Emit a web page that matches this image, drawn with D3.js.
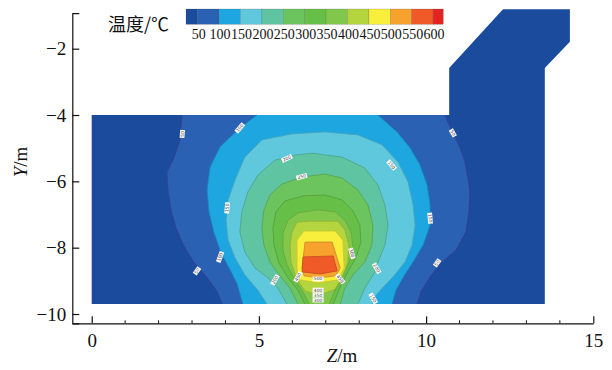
<!DOCTYPE html>
<html><head><meta charset="utf-8">
<script src="https://cdn.jsdelivr.net/npm/d3@7"></script>
<style>
html,body{margin:0;padding:0;background:#fff;}
svg{display:block;}
</style></head><body>
<svg id="chart" width="612" height="370"></svg>
<script>
// Temperature levels (°C) bounding each colour band
const levels = [50, 100, 150, 200, 250, 300, 350, 400, 450, 500, 550, 600];
// Band colours: <50, 50-100, ..., 550-600, >600
const bandColors = ["#1b4b9c", "#2a61b3", "#1da6e0", "#5fc8dd", "#5ec4a2", "#6cc45e",
                    "#66bf46", "#80c74b", "#b5d53e", "#f8ef3c", "#f8a22e", "#ef5a28", "#e42222"];
const xTicks = [0, 5, 10, 15];
const yTicks = [-10, -8, -6, -4, -2];

// Computational domain outline (Z, Y) in metres
const domainOutline = [[0, -4], [10.69, -4], [10.69, -2.58], [12.30, -0.81], [14.30, -0.81],
  [14.30, -1.79], [13.55, -2.58], [13.55, -9.7], [0, -9.7]];

// Isotherms (Z, Y); each encloses the region hotter than its level
const iso50 = [[3.90,-9.70],[3.75,-9.32],[3.45,-8.90],[3.06,-8.45],[2.76,-7.95],[2.52,-7.41],[2.37,-6.86],
  [2.28,-6.26],[2.25,-5.72],[2.46,-5.30],[2.64,-4.75],[2.70,-4.00],[10.57,-4.00],[10.65,-4.21],[10.80,-4.54],
  [11.02,-5.00],[11.16,-5.42],[11.25,-5.90],[11.31,-6.32],[11.28,-6.92],[11.19,-7.53],[10.89,-8.07],
  [10.45,-8.46],[10.12,-8.88],[9.85,-9.31],[9.73,-9.70]];
const iso100 = [[4.52,-9.70],[4.35,-9.09],[4.14,-8.67],[3.87,-8.16],[3.66,-7.56],[3.51,-6.94],[3.45,-6.26],
  [3.54,-5.57],[3.84,-4.96],[4.43,-4.39],[4.94,-4.00],[8.56,-4.00],[9.13,-4.51],[9.52,-4.99],[9.82,-5.51],
  [10.03,-6.11],[10.12,-6.71],[10.12,-7.32],[9.91,-7.92],[9.61,-8.43],[9.34,-8.85],[9.10,-9.28],[8.98,-9.70]];
const iso150 = [[5.24,-9.70],[4.97,-9.28],[4.58,-8.82],[4.29,-8.31],[4.08,-7.77],[4.02,-7.17],[4.08,-6.56],
  [4.29,-5.96],[4.58,-5.27],[5.09,-4.75],[5.99,-4.57],[6.98,-4.51],[7.96,-4.60],[8.68,-4.90],[9.16,-5.42],
  [9.46,-6.02],[9.61,-6.71],[9.67,-7.32],[9.58,-7.92],[9.37,-8.43],[9.01,-8.88],[8.77,-9.13],[8.50,-9.43],
  [8.38,-9.70]];
const iso200 = [[5.84,-9.70],[5.57,-9.22],[5.27,-8.91],[4.88,-8.61],[4.58,-8.13],[4.43,-7.53],[4.49,-6.92],
  [4.67,-6.32],[4.97,-5.81],[5.48,-5.36],[6.08,-5.21],[6.59,-5.15],[7.49,-5.27],[8.17,-5.60],[8.56,-6.11],
  [8.77,-6.71],[8.86,-7.32],[8.77,-7.92],[8.56,-8.43],[8.47,-8.73],[8.17,-9.22],[7.96,-9.70]];
const iso250 = [[6.17,-9.70],[5.93,-9.22],[5.63,-8.85],[5.33,-8.43],[5.15,-7.92],[5.09,-7.41],[5.15,-6.86],
  [5.33,-6.41],[5.69,-6.08],[6.29,-5.87],[6.98,-5.78],[7.49,-5.90],[7.96,-6.26],[8.26,-6.71],[8.41,-7.32],
  [8.38,-7.92],[8.17,-8.43],[7.81,-8.82],[7.57,-9.22],[7.43,-9.70]];
const iso300 = [[6.38,-9.70],[6.17,-9.28],[5.87,-8.91],[5.60,-8.46],[5.45,-7.92],[5.42,-7.41],[5.51,-6.92],
  [5.78,-6.59],[6.32,-6.44],[6.98,-6.41],[7.49,-6.56],[7.81,-6.89],[8.02,-7.32],[8.05,-7.83],[7.90,-8.31],
  [7.66,-8.73],[7.43,-9.19],[7.22,-9.70]];
const iso350 = [[6.50,-9.70],[6.32,-9.34],[6.08,-8.97],[5.84,-8.52],[5.72,-8.07],[5.72,-7.56],[5.87,-7.17],
  [6.17,-6.95],[6.77,-6.86],[7.28,-6.92],[7.57,-7.17],[7.76,-7.53],[7.81,-8.01],[7.69,-8.46],[7.49,-8.88],
  [7.28,-9.28],[7.10,-9.70]];
const iso400 = [[5.96,-8.43],[5.93,-7.92],[5.99,-7.53],[6.14,-7.23],[6.53,-7.20],[7.37,-7.20],[7.57,-7.47],
  [7.69,-7.92],[7.66,-8.43],[7.51,-8.88],[7.28,-9.25],[6.83,-9.43],[6.38,-9.31],[6.11,-8.91]];
const iso450 = [[6.14,-8.67],[6.14,-7.77],[6.35,-7.50],[7.28,-7.50],[7.51,-7.77],[7.55,-8.61],[7.37,-8.97],
  [6.77,-9.06],[6.23,-8.97]];
const iso500 = [[6.29,-8.61],[6.38,-7.83],[7.19,-7.83],[7.43,-8.61],[7.31,-8.85],[6.77,-8.91],[6.35,-8.85]];
const iso550 = [[6.32,-8.28],[7.22,-8.25],[7.34,-8.70],[6.83,-8.79],[6.29,-8.73]];

// In-line contour labels: Z, Y, level, angle along the line
const labelZ     = [2.71, 4.43, 5.84, 6.28, 4.05, 3.84, 3.15, 5.48, 10.80, 8.97, 10.12, 10.33, 7.78, 8.52, 8.42, 6.77, 6.17, 7.43, 6.77, 6.77, 6.77];
const labelY     = [-4.57,-4.39,-5.31,-5.86,-6.80,-8.28,-8.70,-8.97,-4.54,-5.51,-7.11,-8.46,-8.17,-8.62,-9.53,-8.94,-8.88,-8.94,-9.28,-9.43,-9.58];
const labelValue = [50, 100, 200, 250, 150, 100, 50, 200, 50, 150, 100, 50, 300, 200, 150, 500, 450, 450, 400, 350, 300];
const labelAngle = [-85, -50, -25, -15, -85, -70, -55, -60, 60, 50, 85, -55, 75, 60, 60, 0, -60, 50, 0, 0, 0];

const isolines = [iso50, iso100, iso150, iso200, iso250, iso300, iso350, iso400, iso450, iso500, iso550];

const svg = d3.select("#chart");
const x = d3.scaleLinear().domain([-0.58, 15]).range([72.3, 593.3]);
const y = d3.scaleLinear().domain([-10.28, -0.93]).range([323.3, 13.2]);
const line = d3.line().x(d => x(d[0])).y(d => y(d[1]));

const field = svg.append("g");
field.append("path").attr("d", line(domainOutline) + "Z").attr("fill", bandColors[0]);

// filled bands, coolest first
isolines.forEach((pts, i) => {
  field.append("path").attr("d", line(pts) + "Z").attr("fill", bandColors[i + 1]);
});

// isotherm strokes, leaving out the stretches that run along the domain edge
const onEdge = p => Math.abs(p[1] + 4) < 1e-6 || Math.abs(p[1] + 9.7) < 1e-6;
isolines.forEach((pts, i) => {
  const closed = pts.concat([pts[0]]);
  let d = "";
  for (let k = 0; k < closed.length - 1; k++) {
    const a = closed[k], b = closed[k + 1];
    if (onEdge(a) && onEdge(b)) continue;
    d += `M${x(a[0])},${y(a[1])}L${x(b[0])},${y(b[1])}`;
  }
  const stroke = i === 0 ? "#3b3b8e" : d3.color(bandColors[i + 1]).darker(0.55).formatHex();
  field.append("path").attr("d", d).attr("fill", "none")
    .attr("stroke", stroke).attr("stroke-width", 0.8);
});

// contour labels
labelZ.forEach((z, i) => {
  const t = String(labelValue[i]);
  const w = t.length * 3 + 2;
  const lg = field.append("g")
    .attr("transform", `translate(${x(z)},${y(labelY[i])}) rotate(${labelAngle[i]})`);
  lg.append("rect").attr("x", -w / 2).attr("y", -2.4).attr("width", w).attr("height", 4.8).attr("fill", "#fff");
  lg.append("text").attr("text-anchor", "middle").attr("dy", "0.35em")
    .attr("font-family", "DejaVu Sans").attr("font-size", 4.5).attr("fill", "#444").text(t);
});

// axes
const serif = "'Liberation Serif','Times New Roman',serif";
const xAxis = svg.append("g").attr("transform", `translate(0,${y(-10.28)})`)
  .call(d3.axisBottom(x).tickValues(xTicks).tickSize(-7).tickSizeOuter(0).tickPadding(10.5).tickFormat(d3.format("d")));
const yAxis = svg.append("g").attr("transform", `translate(${x(-0.58)},0)`)
  .call(d3.axisLeft(y).tickValues(yTicks).tickSize(-7).tickSizeOuter(-7).tickPadding(6));
[xAxis, yAxis].forEach(a => {
  a.selectAll("path,line").attr("stroke", "#111").attr("stroke-width", 1.2);
  a.selectAll("text").attr("font-family", serif).attr("font-size", 19).attr("fill", "#111");
});
// minor ticks every metre along Z
const minor = d3.range(1, 15).filter(v => v % 5 !== 0);
xAxis.selectAll(".minor").data(minor).join("line").attr("class", "minor")
  .attr("x1", d => x(d)).attr("x2", d => x(d)).attr("y1", 0).attr("y2", -3)
  .attr("stroke", "#111").attr("stroke-width", 1);

// axis titles
const zt = svg.append("text").attr("x", 342).attr("y", 362).attr("text-anchor", "middle")
  .attr("font-family", serif).attr("font-size", 19).attr("fill", "#111");
zt.append("tspan").attr("font-style", "italic").text("Z");
zt.append("tspan").text("/m");
const yt = svg.append("text").attr("transform", "translate(27,162) rotate(-90)").attr("text-anchor", "middle")
  .attr("font-family", serif).attr("font-size", 19).attr("fill", "#111");
yt.append("tspan").attr("font-style", "italic").text("Y");
yt.append("tspan").text("/m");

// colour legend
const lx = d3.scaleLinear().domain([50, 600]).range([197.7, 433.1]);
const edges = [22.7].concat(levels, [623.8]);
const legend = svg.append("g");
legend.selectAll("rect").data(bandColors).join("rect")
  .attr("x", (d, i) => lx(edges[i])).attr("width", (d, i) => lx(edges[i + 1]) - lx(edges[i]))
  .attr("y", 9).attr("height", 15.3).attr("fill", d => d)
  .attr("stroke", "rgba(60,60,60,0.35)").attr("stroke-width", 0.5);
legend.selectAll("text.lv").data(levels).join("text").attr("class", "lv")
  .attr("x", d => lx(d) + 1).attr("y", 39).attr("text-anchor", "middle")
  .attr("font-family", serif).attr("font-size", 14).attr("fill", "#111").text(d => d);
legend.append("text").attr("x", 108).attr("y", 31)
  .attr("font-family", "'Noto Sans CJK SC'").attr("font-size", 18).attr("fill", "#111").text("温度/℃");
</script>
</body></html>
